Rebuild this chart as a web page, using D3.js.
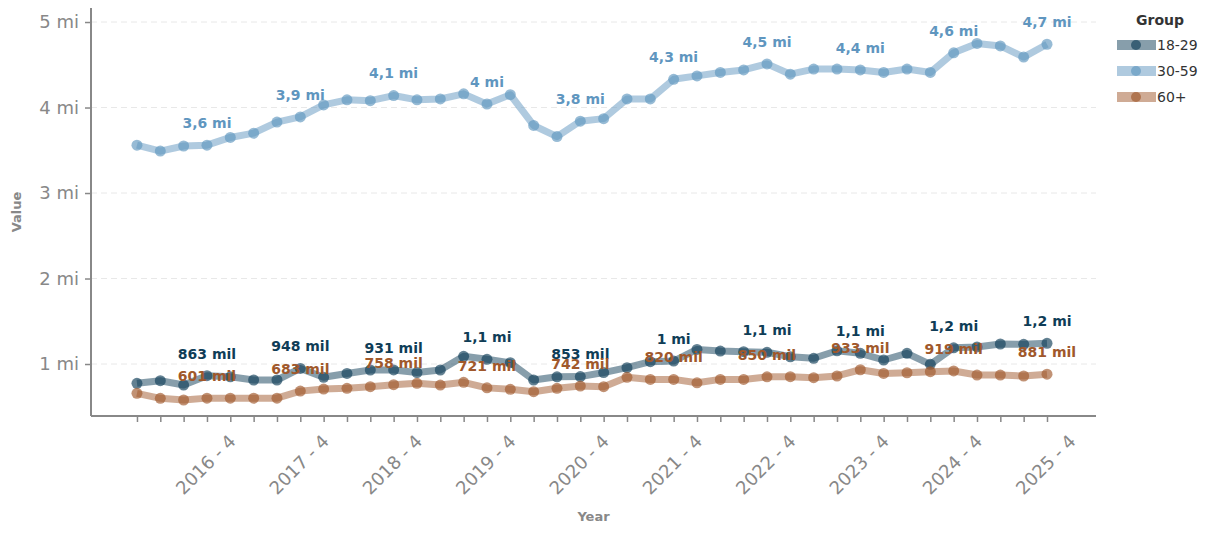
<!DOCTYPE html>
<html>
<head>
<meta charset="utf-8">
<script src="https://cdn.jsdelivr.net/npm/d3@7/dist/d3.min.js"></script>
<style>
  html, body { margin: 0; padding: 0; background: #fff; }
  svg { display: block; font-family: "DejaVu Sans", sans-serif; }
</style>
</head>
<body>
<svg id="chart" width="1206" height="533"></svg>
<script>
// Quarterly periods (index 0 = 2015 - 4); last label "2025 - 4" follows the data
const periods = [
  "2015 - 4","2016 - 1","2016 - 2","2016 - 3","2016 - 4","2017 - 1","2017 - 2","2017 - 3",
  "2017 - 4","2018 - 1","2018 - 2","2018 - 3","2018 - 4","2019 - 1","2019 - 2","2019 - 3",
  "2019 - 4","2020 - 1","2020 - 2","2020 - 3","2020 - 4","2021 - 1","2021 - 2","2021 - 3",
  "2021 - 4","2022 - 1","2022 - 2","2022 - 3","2022 - 4","2023 - 1","2023 - 2","2023 - 3",
  "2023 - 4","2024 - 1","2024 - 2","2024 - 3","2024 - 4","2025 - 1","2025 - 2","2025 - 3",
  "2025 - 4"
];
const xTickLabels = ["2016 - 4","2017 - 4","2018 - 4","2019 - 4","2020 - 4","2021 - 4","2022 - 4","2023 - 4","2024 - 4","2025 - 4"];
const yTicks = [1, 2, 3, 4, 5]; // millions

const groups = ["18-29", "30-59", "60+"];
const colors = ["#0f3d57", "#5f96bf", "#a0582b"];

// values in millions
const values1829 = [
  0.774, 0.805, 0.754, 0.863, 0.850, 0.813, 0.813, 0.948, 0.845, 0.890,
  0.930, 0.931, 0.900, 0.930, 1.090, 1.055, 1.015, 0.813, 0.850, 0.853,
  0.900, 0.957, 1.027, 1.035, 1.170, 1.152, 1.144, 1.137, 1.085, 1.067,
  1.155, 1.125, 1.047, 1.125, 0.996, 1.190, 1.200, 1.234, 1.230, 1.242
];
const values3059 = [
  3.56, 3.49, 3.55, 3.56, 3.65, 3.70, 3.83, 3.89, 4.03, 4.09,
  4.08, 4.14, 4.09, 4.10, 4.16, 4.04, 4.15, 3.79, 3.66, 3.84,
  3.87, 4.10, 4.10, 4.33, 4.37, 4.41, 4.44, 4.51, 4.39, 4.45,
  4.45, 4.44, 4.41, 4.45, 4.41, 4.64, 4.75, 4.72, 4.59, 4.74
];
const values60 = [
  0.657, 0.599, 0.579, 0.601, 0.600, 0.600, 0.600, 0.683, 0.707, 0.716,
  0.735, 0.758, 0.774, 0.754, 0.786, 0.721, 0.704, 0.676, 0.716, 0.742,
  0.735, 0.845, 0.820, 0.820, 0.780, 0.820, 0.820, 0.850, 0.852, 0.840,
  0.860, 0.933, 0.890, 0.898, 0.910, 0.919, 0.871, 0.871, 0.860, 0.881
];
const seriesValues = [values1829, values3059, values60];

function fmt(m) {
  const v = m * 1e6;
  if (v >= 1e6) {
    let s = (Math.round(v / 1e5) / 10).toString().replace(".", ",");
    return s + " mi";
  }
  return Math.round(v / 1000) + " mil";
}

const svg = d3.select("#chart");
const plot = { left: 91, right: 1096, top: 8, bottom: 416 };
const step = (plot.right - plot.left) / 43.07;

const x = d3.scalePoint()
  .domain(periods)
  .range([plot.left + step * 1.97, plot.left + step * 41.97]);

const y = d3.scaleLinear()
  .domain([0.392, 5.164])
  .range([plot.bottom, plot.top]);

const gray = "#888";

// grid
svg.append("g").selectAll("line").data(yTicks).join("line")
  .attr("x1", plot.left).attr("x2", plot.right)
  .attr("y1", d => y(d)).attr("y2", d => y(d))
  .attr("stroke", "#e8e8e8").attr("stroke-width", 1)
  .attr("stroke-dasharray", "6,4");

// y axis
const yAxis = svg.append("g")
  .attr("transform", `translate(${plot.left},0)`)
  .call(d3.axisLeft(y).tickValues(yTicks).tickFormat(d => d + " mi").tickSize(6).tickSizeOuter(0));
yAxis.select(".domain").attr("stroke", gray).attr("stroke-width", 2)
  .attr("d", `M0,${plot.top}V${plot.bottom}`);
yAxis.selectAll(".tick line").attr("stroke", gray).attr("stroke-width", 1.5);
yAxis.selectAll(".tick text").attr("fill", gray).attr("font-size", 18)
  .attr("font-family", "DejaVu Sans, sans-serif").attr("x", -12);

// x axis
const dataPeriods = periods.slice(0, values1829.length);
const xAxis = svg.append("g")
  .attr("transform", `translate(0,${plot.bottom})`)
  .call(d3.axisBottom(x).tickValues(dataPeriods).tickFormat("").tickSize(6).tickSizeOuter(0));
xAxis.select(".domain").attr("stroke", gray).attr("stroke-width", 2)
  .attr("d", `M${plot.left},0H${plot.right}`);
xAxis.selectAll(".tick line").attr("stroke", gray).attr("stroke-width", 1.5);

svg.append("g").selectAll("text").data(xTickLabels).join("text")
  .attr("transform", d => `translate(${x(d) + 2},${plot.bottom + 22}) rotate(-45)`)
  .attr("text-anchor", "end")
  .attr("dy", "0.35em")
  .attr("fill", gray)
  .attr("font-size", 18)
  .text(d => d);

// axis titles
svg.append("text").attr("x", (plot.left + plot.right) / 2).attr("y", 521)
  .attr("text-anchor", "middle").attr("font-size", 13).attr("font-weight", "bold")
  .attr("fill", gray).text("Year");
svg.append("text").attr("transform", `translate(21,${(plot.top + plot.bottom) / 2}) rotate(-90)`)
  .attr("text-anchor", "middle").attr("font-size", 13).attr("font-weight", "bold")
  .attr("fill", gray).text("Value");

// lines + points
const line = d3.line().x((d, i) => x(periods[i])).y(d => y(d));
seriesValues.forEach((vals, k) => {
  const g = svg.append("g");
  g.append("path").datum(vals)
    .attr("d", line).attr("fill", "none")
    .attr("stroke", colors[k]).attr("stroke-opacity", 0.5)
    .attr("stroke-width", 7).attr("stroke-linejoin", "round");
  g.selectAll("circle").data(vals).join("circle")
    .attr("cx", (d, i) => x(periods[i])).attr("cy", d => y(d))
    .attr("r", 5.5).attr("fill", colors[k]).attr("fill-opacity", 0.65);
});

// value labels
seriesValues.forEach((vals, k) => {
  const n = vals.length;
  svg.append("g").selectAll("text")
    .data(vals.map((v, i) => ({ v, i })).filter(d => (n - 1 - d.i) % 4 === 0))
    .join("text")
    .attr("x", d => x(periods[d.i]))
    .attr("y", d => y(d.v) - 22)
    .attr("dy", "0.35em")
    .attr("text-anchor", "middle")
    .attr("font-size", 14).attr("font-weight", "bold")
    .attr("fill", colors[k])
    .text(d => fmt(d.v));
});

// legend
const lg = svg.append("g");
lg.append("text").attr("x", 1160).attr("y", 25).attr("text-anchor", "middle")
  .attr("font-size", 14).attr("font-weight", "bold").attr("fill", "#333").text("Group");
groups.forEach((gname, k) => {
  const cy = 45 + k * 26;
  lg.append("rect").attr("x", 1117).attr("y", cy - 5).attr("width", 39).attr("height", 10)
    .attr("fill", colors[k]).attr("fill-opacity", 0.5);
  lg.append("circle").attr("cx", 1136).attr("cy", cy).attr("r", 5)
    .attr("fill", colors[k]).attr("fill-opacity", 0.65);
  lg.append("text").attr("x", 1157).attr("y", cy).attr("dy", "0.35em")
    .attr("font-size", 14).attr("fill", "#333").text(gname);
});
</script>
</body>
</html>
